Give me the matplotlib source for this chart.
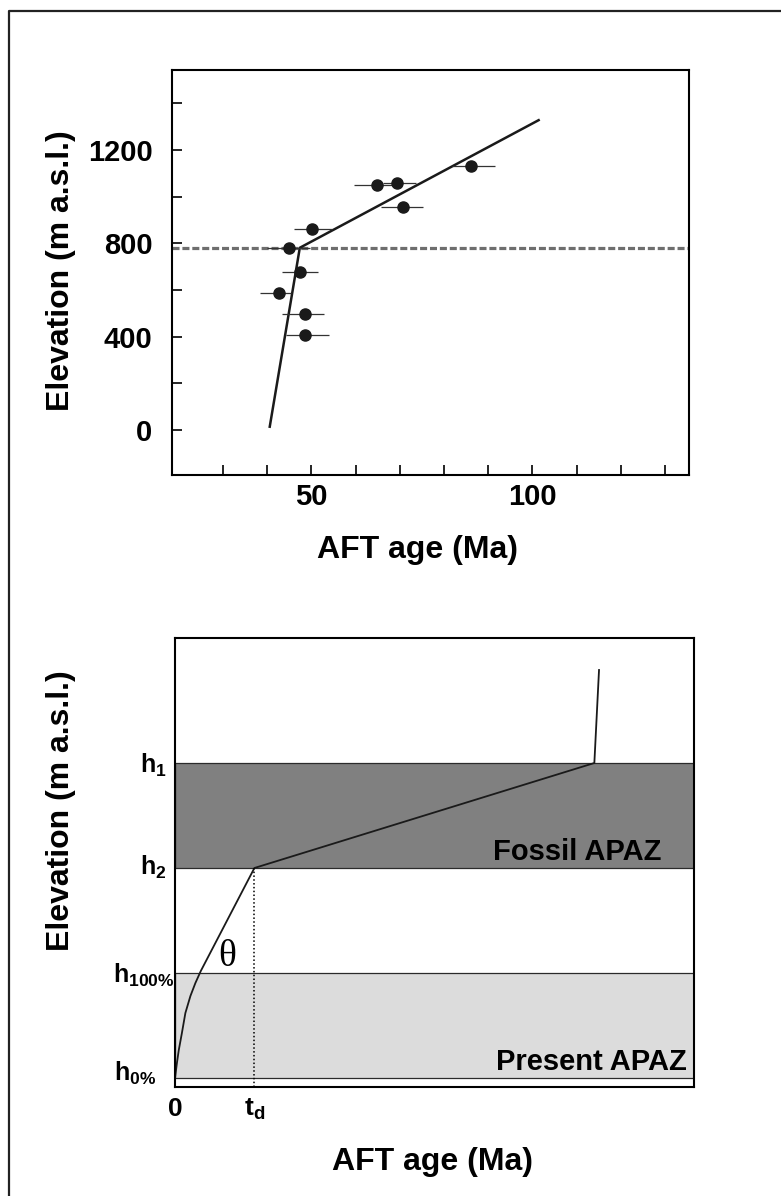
import matplotlib
matplotlib.use('Agg')
import matplotlib.pyplot as plt
from matplotlib.lines import Line2D

plt.rcParams['font.family'] = ['Liberation Sans', 'DejaVu Sans']
plt.rcParams['font.weight'] = 'bold'
plt.rcParams['mathtext.fontset'] = 'custom'
plt.rcParams['mathtext.rm'] = 'Liberation Sans:bold'
plt.rcParams['mathtext.it'] = 'Liberation Sans:bold'
plt.rcParams['mathtext.bf'] = 'Liberation Sans:bold'

W, H = 781, 1196

# upper panel: measured AFT ages (Ma) against sample elevation (m)
age = [86.2, 64.9, 69.3, 70.7, 50.2, 45.0, 47.5, 42.7, 48.5, 48.6]
elev = [1131, 1052, 1060, 954, 860, 781, 677, 587, 498, 408]
err_lo = [4.4, 5.3, 3.0, 5.0, 4.1, 5.0, 4.2, 4.4, 5.1, 4.3]
err_hi = [5.3, 4.5, 4.4, 4.5, 4.5, 4.8, 4.0, 2.7, 4.3, 5.3]
fit_age = [40.6, 47.4, 101.4]
fit_elev = [14, 781, 1328]
apaz_base = 778
x_ticks = [30, 40, 50, 60, 70, 80, 90, 100, 110, 120, 130]
x_labels = ['', '', '50', '', '', '', '', '100', '', '', '']
y_ticks = [0, 200, 400, 600, 800, 1000, 1200, 1400]
y_labels = ['0', '', '400', '', '800', '', '1200', '']

# lower panel: schematic age-elevation profile (arbitrary units)
h0, h100, h2, h1 = 0, 105, 210, 315
t_d = 15.3
curve_x = [0, 0.37, 0.73, 1.33, 2.0, 2.97, 3.93, 4.97, t_d, 80.8, 81.7]
curve_y = [0, 15, 28, 45, 65, 82, 95, 107, h2, h1, 408]
h_labels = [r'$\mathrm{h_1}$', r'$\mathrm{h_2}$', r'$\mathrm{h_{100\%}}$', r'$\mathrm{h_{0\%}}$']
h_values = [h1, h2, h100, h0]


def px_box(l, t, r, b):
    return [l / W, 1 - b / H, (r - l) / W, (b - t) / H]


fig = plt.figure(figsize=(W / 100, H / 100), dpi=100)

# outer frame (only left and top edges visible)
fig.add_artist(Line2D([9 / W, 9 / W, 1], [0, 1 - 11 / H, 1 - 11 / H],
                      transform=fig.transFigure, color='#222222', lw=1.6))

# ---- top panel
ax1 = fig.add_axes(px_box(172, 70, 689, 475))
ax1.axhline(apaz_base, color='#6e6e6e', lw=2.3, dashes=(2.2, 0.9), zorder=1)
ax1.plot(fit_age, fit_elev, color='#1a1a1a', lw=1.8, zorder=2)
ax1.errorbar(age, elev, xerr=[err_lo, err_hi], fmt='o', color='#1a1a1a',
             ms=8, ecolor='#333333', elinewidth=0.9, capsize=0, zorder=3)
ax1.set_xlim(18.5, 135.4)
ax1.set_ylim(-193, 1543)
ax1.set_xticks(x_ticks)
ax1.set_xticklabels(x_labels)
ax1.set_yticks(y_ticks)
ax1.set_yticklabels(y_labels)
ax1.tick_params(direction='in', length=7.5, width=1.2, labelsize=21)
ax1.tick_params(axis='x', pad=5.5)
ax1.tick_params(axis='y', pad=14)
for sp in ax1.spines.values():
    sp.set_linewidth(1.5)

fig.text(418 / W, 1 - 550 / H, 'AFT age (Ma)', fontsize=23, ha='center', va='center')
fig.text(61 / W, 1 - 271 / H, 'Elevation (m a.s.l.)', fontsize=23,
         rotation=90, ha='center', va='center')

# ---- bottom panel
ax2 = fig.add_axes(px_box(175, 638, 694, 1087))
ax2.axhspan(h0, h100, fc='#dcdcdc', ec='#2b2b2b', lw=0.9, zorder=0)
ax2.axhspan(h2, h1, fc='#808080', ec='#2b2b2b', lw=0.9, zorder=0)
ax2.plot(curve_x, curve_y, color='#1a1a1a', lw=1.3, zorder=2)
ax2.plot([t_d, t_d], [-9, h2], color='black', lw=1.1, ls=(0, (1, 1.5)), zorder=2)
ax2.set_xlim(0, 100)
ax2.set_ylim(-9, 440)
ax2.set_xticks([0, t_d])
ax2.set_xticklabels(['0', r'$\mathrm{t_d}$'])
ax2.set_yticks([])
ax2.tick_params(axis='x', length=0, labelsize=19, pad=7)
for sp in ax2.spines.values():
    sp.set_linewidth(1.5)

ax2.text(93.8, h2 + 8, 'Fossil APAZ', fontsize=21, ha='right', va='baseline')
ax2.text(98.6, h0 + 8, 'Present APAZ', fontsize=21, ha='right', va='baseline')
ax2.text(10.0, 121, '\u03b8', fontsize=27, fontweight='normal',
         family=['Liberation Serif', 'DejaVu Serif'], ha='center', va='center')

h_left = [-0.067, -0.067, -0.119, -0.117]
h_drop = [10, 7, 10, 3]
yax = ax2.get_yaxis_transform()
for lab, hv, xl, dr in zip(h_labels, h_values, h_left, h_drop):
    ax2.text(xl, hv - dr, lab, fontsize=18, ha='left', va='baseline', transform=yax)

fig.text(432 / W, 1 - 1162 / H, 'AFT age (Ma)', fontsize=23, ha='center', va='center')
fig.text(61 / W, 1 - 811 / H, 'Elevation (m a.s.l.)', fontsize=23,
         rotation=90, ha='center', va='center')

fig.savefig('out.png', dpi=100)
